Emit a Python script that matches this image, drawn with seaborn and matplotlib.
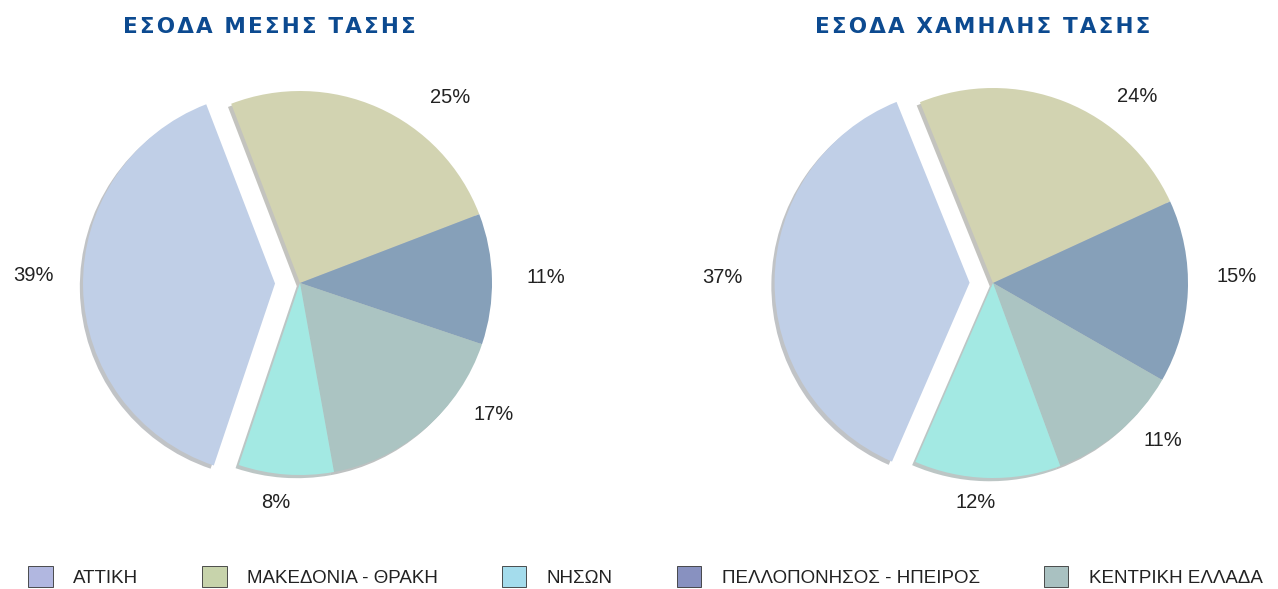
import matplotlib
matplotlib.use("Agg")
import numpy as np
import matplotlib.pyplot as plt
from matplotlib.patches import Patch
import seaborn as sns

# regions in legend order
regions = ["ΑΤΤΙΚΗ", "ΜΑΚΕΔΟΝΙΑ - ΘΡΑΚΗ", "ΝΗΣΩΝ", "ΠΕΛΛΟΠΟΝΗΣΟΣ - ΗΠΕΙΡΟΣ", "ΚΕΝΤΡΙΚΗ ΕΛΛΑΔΑ"]
medium_voltage = [39, 25, 8, 11, 17]
low_voltage = [37, 24, 12, 15, 11]
titles = ["ΕΣΟΔΑ ΜΕΣΗΣ ΤΑΣΗΣ", "ΕΣΟΔΑ ΧΑΜΗΛΗΣ ΤΑΣΗΣ"]

slice_colors = ["#c0cfe7", "#d2d3b1", "#a3e9e3", "#86a0b9", "#abc4c2"]
legend_colors = ["#b1b7e0", "#c7d3ab", "#a4dcec", "#8891c0", "#a9c1c1"]

# drawing order (clockwise from the top)
order = [1, 3, 4, 2, 0]

# label placement tweaks (legend order): angle shift in degrees, radial distance
label_shift = [[-3, -15, -2, 0, 15], [-0.5, -16, -3, 4, 7]]
label_dist = [[1.26, 1.24, 1.15, 1.28, 1.22], [1.27, 1.21, 1.13, 1.25, 1.19]]

sns.set_theme(style="white")
plt.rcParams["font.family"] = ["Liberation Sans", "DejaVu Sans"]

fig = plt.figure(figsize=(12.78, 5.89), dpi=100)

W, H = 1278, 589
pies = [
    (medium_voltage, 300, 283, 192, 111, 0.13),
    (low_voltage, 993, 283, 195, 112, 0.12),
]
for k, (values, cx, cy, r, start, expl) in enumerate(pies):
    side = 560
    ax = fig.add_axes([(cx - side / 2) / W, (H - cy - side / 2) / H, side / W, side / H])
    vals = [values[i] for i in order]
    cols = [slice_colors[i] for i in order]
    explode = [expl if i == 0 else 0 for i in order]
    labels = [f"{values[i]}%" for i in order]
    wedges, texts = ax.pie(
        vals, colors=cols, explode=explode, startangle=start, counterclock=False,
        labels=labels, labeldistance=1.2,
        wedgeprops=dict(linewidth=0),
        shadow=dict(ox=-0.012, oy=-0.012, alpha=0.35, shade=0.6),
        textprops=dict(fontsize=14.5, color="#222222", ha="center", va="center"),
    )
    for w, t, i in zip(wedges, texts, order):
        ang = np.deg2rad((w.theta1 + w.theta2) / 2 + label_shift[k][i])
        x0, y0 = w.center
        d = label_dist[k][i]
        t.set_position((x0 + d * np.cos(ang), y0 + d * np.sin(ang)))
        t.set_ha("center")
    lim = side / 2 / r
    ax.set_xlim(-lim, lim)
    ax.set_ylim(-lim, lim)
    ax.set_aspect("equal")
    ax.axis("off")

title_x = [269, 983]
for t, x in zip(titles, title_x):
    fig.text(x / W, 1 - 27 / H, "\u200a".join(t), ha="center", va="center",
             fontsize=15.5, fontweight="bold", color="#0c4a90",
             family=["DejaVu Sans"])

handles = [Patch(facecolor=c, edgecolor="#333333", linewidth=0.6) for c in legend_colors]
fig.legend(handles, regions, loc="lower center", bbox_to_anchor=(0.505, -0.025), ncol=5,
           frameon=False, columnspacing=3.4, handlelength=1.3, handleheight=1.3,
           handletextpad=1.1, fontsize=13.5, labelcolor="#222222")

plt.savefig("out.png", dpi=100)
